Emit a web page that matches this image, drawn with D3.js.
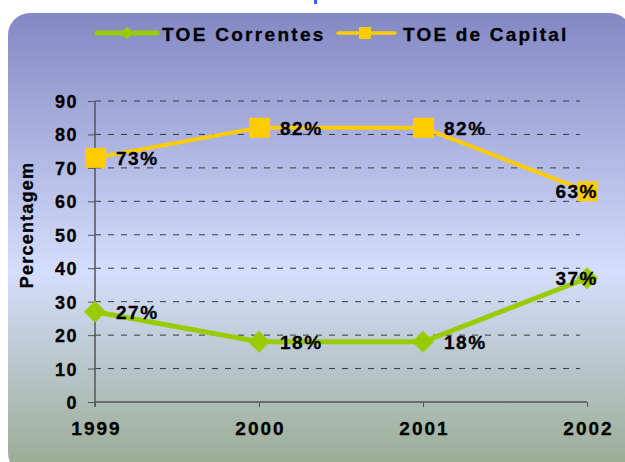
<!DOCTYPE html>
<html>
<head>
<meta charset="utf-8">
<script src="https://cdn.jsdelivr.net/npm/d3@7"></script>
<style>
  body { margin: 0; background: #fff; }
  svg text { font-family: "Liberation Sans", Arial, sans-serif; font-weight: bold; fill: #000; stroke: #000; stroke-width: 0.3px; }
</style>
</head>
<body>
<svg width="625" height="462"></svg>
<script>
// chart data
const years = ['1999', '2000', '2001', '2002'];
const correntes = [27, 18, 18, 37];
const capital = [73, 82, 82, 63];
const yTicks = [0, 10, 20, 30, 40, 50, 60, 70, 80, 90];

const svg = d3.select('svg');
const defs = svg.append('defs');

// background gradient of the panel
const grad = defs.append('linearGradient')
  .attr('id', 'bg').attr('x1', 0).attr('y1', 0).attr('x2', 0).attr('y2', 1);
grad.append('stop').attr('offset', '0%').attr('stop-color', '#8388c3');
grad.append('stop').attr('offset', '56%').attr('stop-color', '#d5defd');
grad.append('stop').attr('offset', '100%').attr('stop-color', '#97aa8f');

svg.append('rect')
  .attr('x', 8).attr('y', 13)
  .attr('width', 624).attr('height', 462)
  .attr('rx', 22).attr('ry', 22)
  .style('fill', 'url(#bg)');

// little piece of the cut title
svg.append('rect').attr('x', 314).attr('y', 0).attr('width', 3).attr('height', 4).style('fill', '#3366ff');

const x = d3.scalePoint().domain(years).range([95, 587]);
const y = d3.scaleLinear().domain([0, 90]).range([402, 101]);

// gridlines
svg.append('g').selectAll('line')
  .data(yTicks.filter(d => d > 0))
  .enter().append('line')
    .attr('x1', 95).attr('x2', 580)
    .attr('y1', d => y(d)).attr('y2', d => y(d))
    .style('stroke', '#3a3a3a')
    .style('stroke-width', 1)
    .style('stroke-dasharray', '6,7');

// y axis
const yAxis = svg.append('g')
  .attr('transform', 'translate(95,0)')
  .call(d3.axisLeft(y).tickValues(yTicks).tickSize(7).tickPadding(10));
yAxis.select('.domain').attr('d', 'M0,101V407').style('stroke', '#555').style('stroke-width', 1.5);
yAxis.selectAll('.tick line').style('stroke', '#555');
yAxis.selectAll('text').style('font-size', '18px').style('letter-spacing', '1.5px').attr('dy', '0.36em');

// x axis
const xAxis = svg.append('g')
  .attr('transform', 'translate(0,402)')
  .call(d3.axisBottom(x).tickSize(5).tickPadding(15));
xAxis.select('.domain').attr('d', 'M95,0H587').style('stroke', '#555').style('stroke-width', 1.5);
xAxis.selectAll('.tick line').style('stroke', '#555');
xAxis.selectAll('text').style('font-size', '19px').style('letter-spacing', '2px').attr('dx', '1px');

svg.append('text')
  .attr('transform', 'translate(33,225) rotate(-90)')
  .attr('text-anchor', 'middle')
  .style('font-size', '18px')
  .style('letter-spacing', '1.2px')
  .text('Percentagem');

const line = d3.line().x((d, i) => x(years[i])).y(d => y(d));

// TOE de Capital
svg.append('path').datum(capital)
  .attr('d', line)
  .style('fill', 'none').style('stroke', '#ffcc00').style('stroke-width', 4);
svg.append('g').selectAll('rect')
  .data(capital).enter().append('rect')
    .attr('x', (d, i) => x(years[i]) - 10)
    .attr('y', d => y(d) - 10)
    .attr('width', 21).attr('height', 20)
    .style('fill', '#ffcc00');

// TOE Correntes
const diamond = 'M0,-11L11,0L0,11L-11,0Z';
svg.append('path').datum(correntes)
  .attr('d', line)
  .style('fill', 'none').style('stroke', '#99cc00').style('stroke-width', 5);
svg.append('g').selectAll('path')
  .data(correntes).enter().append('path')
    .attr('d', diamond)
    .attr('transform', (d, i) => `translate(${x(years[i])},${y(d)})`)
    .style('fill', '#99cc00');

// value labels
const addLabels = (data) => {
  svg.append('g').selectAll('text')
    .data(data).enter().append('text')
      .attr('x', (d, i) => i === 3 ? x(years[i]) + 11 : x(years[i]) + 21)
      .attr('y', d => y(d))
      .attr('dy', '0.36em')
      .attr('text-anchor', (d, i) => i === 3 ? 'end' : 'start')
      .style('font-size', '19px')
      .style('letter-spacing', '1.5px')
      .text(d => d + '%');
};
addLabels(capital);
addLabels(correntes);

// legend
const legend = svg.append('g');
legend.append('line').attr('x1', 97).attr('x2', 157).attr('y1', 33).attr('y2', 33)
  .style('stroke', '#99cc00').style('stroke-width', 5).style('stroke-linecap', 'round');
legend.append('path').attr('d', 'M0,-6.5L6.5,0L0,6.5L-6.5,0Z').attr('transform', 'translate(127,33)').style('fill', '#99cc00');
legend.append('text').attr('x', 162).attr('y', 34).attr('dy', '0.36em')
  .style('font-size', '19px').style('letter-spacing', '2.3px').text('TOE Correntes');
legend.append('line').attr('x1', 338).attr('x2', 395).attr('y1', 33).attr('y2', 33)
  .style('stroke', '#ffcc00').style('stroke-width', 3.5).style('stroke-linecap', 'round');
legend.append('rect').attr('x', 359).attr('y', 27).attr('width', 12).attr('height', 12).style('fill', '#ffcc00');
legend.append('text').attr('x', 403).attr('y', 34).attr('dy', '0.36em')
  .style('font-size', '19px').style('letter-spacing', '2.2px').text('TOE de Capital');
</script>
</body>
</html>
